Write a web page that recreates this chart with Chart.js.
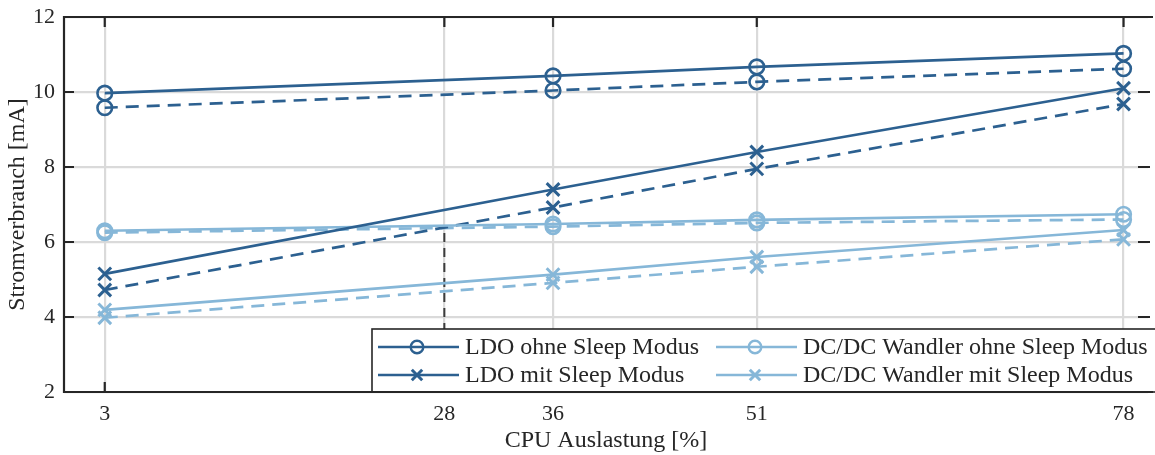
<!DOCTYPE html>
<html><head><meta charset="utf-8">
<script src="https://cdn.jsdelivr.net/npm/chart.js@4"></script>
<style>html,body{margin:0;padding:0;background:#fff;overflow:hidden}
#wrap{width:1160px;height:455px;position:relative}</style>
</head><body><div id="wrap"><canvas id="c" width="1160" height="455"></canvas></div>
<script>
// ---- data ----
const cpuLoad   = [3, 36, 51, 78];
const ldoOhne   = [9.97, 10.43, 10.67, 11.03];
const ldoOhneB  = [9.58, 10.04, 10.27, 10.62];
const ldoMit    = [5.15, 7.40, 8.40, 10.10];
const ldoMitB   = [4.72, 6.92, 7.95, 9.68];
const dcOhne    = [6.30, 6.48, 6.59, 6.74];
const dcOhneB   = [6.25, 6.41, 6.51, 6.60];
const dcMit     = [4.19, 5.13, 5.60, 6.32];
const dcMitB    = [3.98, 4.91, 5.34, 6.07];
const xTicks    = [3, 28, 36, 51, 78];
const yTicks    = [2, 4, 6, 8, 10, 12];
const markX     = [28, 28];
const markY     = [2, 6.4];
const seriesLabels = ['LDO ohne Sleep Modus', 'LDO mit Sleep Modus',
                      'DC/DC Wandler ohne Sleep Modus', 'DC/DC Wandler mit Sleep Modus'];
const xTitle = 'CPU Auslastung [%]';
const yTitle = 'Stromverbrauch [mA]';

// ---- styles ----
const DARK = '#2c6090';
const LIGHT = '#86b7d8';
const INK = '#262626';
const GRID = '#dadada';
const FONT = '"Liberation Serif", "Times New Roman", serif';

function pts(xs, ys) { return xs.map((x, i) => ({ x: x, y: ys[i] })); }
function series(label, ys, color, marker, dashed, inLegend) {
  const isCircle = marker === 'circle';
  return {
    label: label, data: pts(cpuLoad, ys), showLine: true,
    borderColor: color, backgroundColor: 'rgba(0,0,0,0)',
    borderWidth: 2.7, borderDash: dashed ? [13, 8] : [],
    pointStyle: marker, pointRadius: isCircle ? 7.3 : 9,
    pointBorderWidth: isCircle ? 2.6 : 3, pointBorderColor: color,
    pointBackgroundColor: 'rgba(0,0,0,0)', tension: 0,
    inLegend: inLegend
  };
}

const datasets = [
  series(seriesLabels[0], ldoOhne, DARK, 'circle', false, true),
  series(seriesLabels[1], ldoMit, DARK, 'crossRot', false, true),
  series(seriesLabels[2], dcOhne, LIGHT, 'circle', false, true),
  series(seriesLabels[3], dcMit, LIGHT, 'crossRot', false, true),
  series(seriesLabels[0], ldoOhneB, DARK, 'circle', true, false),
  series(seriesLabels[1], ldoMitB, DARK, 'crossRot', true, false),
  series(seriesLabels[2], dcOhneB, LIGHT, 'circle', true, false),
  series(seriesLabels[3], dcMitB, LIGHT, 'crossRot', true, false),
  { label: 'marker', data: pts(markX, markY), showLine: true, borderColor: '#3c3c3c',
    borderWidth: 2, borderDash: [9, 6], pointRadius: 0, inLegend: false }
];

function drawMarker(ctx, style, x, y, color) {
  ctx.save();
  ctx.strokeStyle = color; ctx.setLineDash([]);
  ctx.beginPath();
  if (style === 'circle') {
    ctx.lineWidth = 2.4; ctx.arc(x, y, 6.3, 0, Math.PI * 2);
  } else {
    ctx.lineWidth = 3; const d = 5.2;
    ctx.moveTo(x - d, y - d); ctx.lineTo(x + d, y + d);
    ctx.moveTo(x - d, y + d); ctx.lineTo(x + d, y - d);
  }
  ctx.stroke();
  ctx.restore();
}

const framePlugin = {
  id: 'frameLegend',
  afterDraw(chart) {
    const ctx = chart.ctx, a = chart.chartArea;
    const xs = chart.scales.x, ys = chart.scales.y;
    // legend box
    const bL = a.left + 308, bT = a.top + 312, bR = a.right + 20, bB = a.bottom;
    ctx.save();
    ctx.fillStyle = '#fff';
    ctx.fillRect(bL, bT, bR - bL, bB - bT);
    ctx.strokeStyle = INK; ctx.lineWidth = 1.6;
    ctx.strokeRect(bL, bT, bR - bL, bB - bT);
    const items = chart.data.datasets.filter(d => d.inLegend);
    ctx.font = '24px ' + FONT; ctx.fillStyle = INK;
    ctx.textBaseline = 'middle'; ctx.textAlign = 'left';
    items.forEach((d, i) => {
      const col = Math.floor(i / 2), row = i % 2;
      const x0 = col === 0 ? bL + 6 : bL + 344;
      const y = bT + 18 + row * 28;
      ctx.strokeStyle = d.borderColor; ctx.lineWidth = 2.6; ctx.setLineDash([]);
      ctx.beginPath(); ctx.moveTo(x0, y); ctx.lineTo(x0 + 81, y); ctx.stroke();
      drawMarker(ctx, d.pointStyle, x0 + 39, y, d.borderColor);
      ctx.fillStyle = INK;
      ctx.fillText(d.label, x0 + 87, y + 1);
    });
    // frame (right side lies at the picture edge, as in the original crop)
    ctx.strokeStyle = INK; ctx.lineWidth = 2.2; ctx.setLineDash([]);
    ctx.beginPath();
    ctx.moveTo(a.right + 5, a.top); ctx.lineTo(a.left, a.top);
    ctx.lineTo(a.left, a.bottom); ctx.lineTo(a.right + 5, a.bottom);
    ctx.stroke();
    // inward ticks
    const tl = 10;
    ctx.beginPath();
    xs.ticks.forEach(t => {
      const px = xs.getPixelForValue(t.value);
      ctx.moveTo(px, a.top); ctx.lineTo(px, a.top + tl);
      if (px < bL - 2) { ctx.moveTo(px, a.bottom); ctx.lineTo(px, a.bottom - tl); }
    });
    ys.ticks.forEach(t => {
      const py = ys.getPixelForValue(t.value);
      ctx.moveTo(a.left, py); ctx.lineTo(a.left + tl, py);
      if (py < bT - 2) { ctx.moveTo(a.right + 2, py); ctx.lineTo(a.right - tl, py); }
    });
    ctx.stroke();
    ctx.restore();
  }
};

function noPad(s) { s.paddingTop = 0; s.paddingBottom = 0; s.paddingLeft = 0; s.paddingRight = 0; }

new Chart(document.getElementById('c'), {
  type: 'scatter',
  data: { datasets: datasets },
  options: {
    responsive: false, animation: false, devicePixelRatio: 1,
    layout: { padding: { top: 17, right: 1, left: 0, bottom: 0 } },
    plugins: { legend: { display: false }, tooltip: { enabled: false } },
    scales: {
      x: {
        type: 'linear', min: 0, max: 79.8,
        afterBuildTicks: s => { s.ticks = xTicks.map(v => ({ value: v })); },
        afterFit: s => { s.height = 63; noPad(s); },
        grid: { color: GRID, lineWidth: 2.2, drawTicks: false },
        border: { display: false },
        ticks: { color: INK, font: { family: FONT, size: 22 }, padding: 9, maxRotation: 0,
                 callback: v => String(v) },
        title: { display: true, text: xTitle, color: INK, font: { family: FONT, size: 24 },
                 padding: { top: 0, bottom: 0 } }
      },
      y: {
        type: 'linear', min: 2, max: 12,
        afterBuildTicks: s => { s.ticks = yTicks.map(v => ({ value: v })); },
        afterFit: s => { s.width = 64; noPad(s); },
        grid: { color: GRID, lineWidth: 2.2, drawTicks: false },
        border: { display: false },
        ticks: { color: INK, font: { family: FONT, size: 22 }, padding: 9,
                 callback: v => String(v) },
        title: { display: true, text: yTitle, color: INK, font: { family: FONT, size: 24 },
                 padding: { top: 3, bottom: 0 } }
      }
    }
  },
  plugins: [framePlugin]
});
</script>
</body></html>
